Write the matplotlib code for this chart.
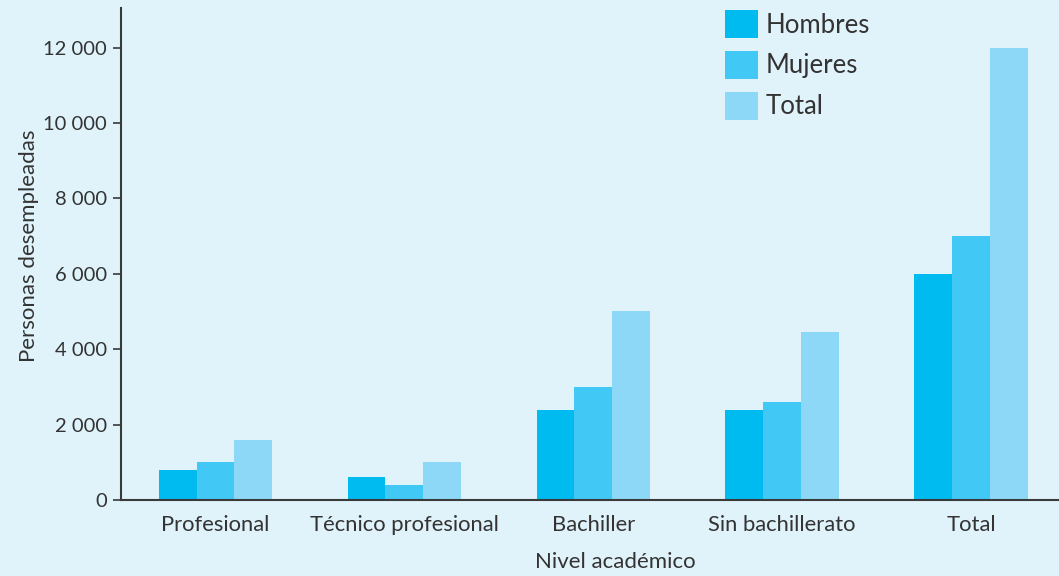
import matplotlib
matplotlib.use("Agg")
import matplotlib.pyplot as plt
from matplotlib.patches import Patch
import numpy as np

categories = ["Profesional", "Técnico profesional", "Bachiller", "Sin bachillerato", "Total"]
hombres = [800, 600, 2400, 2400, 6000]
mujeres = [1000, 400, 3000, 2600, 7000]
total = [1600, 1000, 5000, 4450, 12000]

series_names = ["Hombres", "Mujeres", "Total"]
colors = ["#00BBF0", "#42C8F4", "#8DD8F6"]
bg = "#E0F3FB"
text_color = "#333333"

plt.rcParams["font.family"] = ["Lato", "DejaVu Sans"]

fig = plt.figure(figsize=(10.59, 5.76), dpi=100, facecolor=bg)
ax = fig.add_axes([121 / 1059, 76 / 576, (1059 - 121) / 1059, 492 / 576])
ax.set_facecolor(bg)

x = np.arange(len(categories))
w = 0.2
for i, (vals, c) in enumerate(zip([hombres, mujeres, total], colors)):
    ax.bar(x + (i - 1) * w, vals, width=w, color=c, linewidth=0)

ax.set_xlim(-0.5, 4.466)
ax.set_ylim(0, 13050)
ax.set_yticks(range(0, 12001, 2000))
ax.set_yticklabels(["0" if v == 0 else f"{v // 1000} 000" for v in range(0, 12001, 2000)])
ax.set_xticks(x)
ax.set_xticklabels(categories)

for s in ["top", "right"]:
    ax.spines[s].set_visible(False)
for s in ["left", "bottom"]:
    ax.spines[s].set_color("#3a3a3a")
    ax.spines[s].set_linewidth(1.5)

ax.tick_params(axis="y", direction="out", length=6, width=1.2, color="#3a3a3a",
               labelsize=14.5, labelcolor=text_color, pad=4)
ax.tick_params(axis="x", length=0, labelsize=15.8, labelcolor=text_color, pad=11)

ax.set_ylabel("Personas desempleadas", fontsize=16, color=text_color)
ax.set_xlabel("Nivel académico", fontsize=16, color=text_color)
ax.yaxis.set_label_coords(-0.087, 0.516)
ax.xaxis.set_label_coords(0.527, -0.105)

handles = [Patch(facecolor=c, edgecolor="none") for c in colors]
fig.legend(handles, series_names, loc="upper left", bbox_to_anchor=(725 / 1059, 1 - 10 / 576),
           frameon=False, fontsize=18.5, handlelength=1.3, handleheight=1.3,
           handletextpad=0.3, labelspacing=0.5, labelcolor=text_color,
           borderpad=0, borderaxespad=0)

fig.savefig("out.png", dpi=100, facecolor=bg)
